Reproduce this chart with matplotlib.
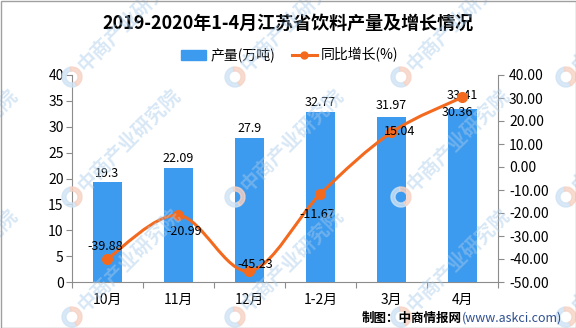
import matplotlib
matplotlib.use("Agg")
import matplotlib.pyplot as plt
import numpy as np
from matplotlib.path import Path
from matplotlib.patches import PathPatch, Wedge, Rectangle
from matplotlib.lines import Line2D
from matplotlib.ticker import FormatStrFormatter, FixedLocator

plt.rcParams['font.family'] = ['Noto Sans CJK SC', 'DejaVu Sans']

# data
months = ['10月', '11月', '12月', '1-2月', '3月', '4月']
output = [19.3, 22.09, 27.9, 32.77, 31.97, 33.41]        # 产量(万吨)
growth = [-39.88, -20.99, -45.23, -11.67, 15.04, 30.36]  # 同比增长(%)

bar_color = '#3D9BEF'
line_color = '#F36A1F'
spine_color = '#8C8C8C'

fig = plt.figure(figsize=(5.76, 3.28), dpi=100)
ax = fig.add_axes([72 / 576, 1 - 282 / 328, 426 / 576, 207 / 328])
ax2 = ax.twinx()

x = np.arange(len(months))

# bars
ax.bar(x, output, width=0.41, color=bar_color, zorder=2)
bar_offsets = [9, 9, 9, 10, 11, 14]  # px above the bar top
for xi, v, dy in zip(x, output, bar_offsets):
    ax.annotate(f'{v:g}', xy=(xi, v), xytext=(0, dy * 0.72), textcoords='offset points',
                ha='center', va='center', fontsize=9)

# smoothed line (bezier through the points, excel style)
verts = [(x[0], growth[0])]
codes = [Path.MOVETO]
n = len(x)
for i in range(n - 1):
    p0 = np.array([x[max(i - 1, 0)], growth[max(i - 1, 0)]])
    p1 = np.array([x[i], growth[i]])
    p2 = np.array([x[i + 1], growth[i + 1]])
    p3 = np.array([x[min(i + 2, n - 1)], growth[min(i + 2, n - 1)]])
    c1 = p1 + (p2 - p0) / 6
    c2 = p2 - (p3 - p1) / 6
    verts += [tuple(c1), tuple(c2), tuple(p2)]
    codes += [Path.CURVE4] * 3
ax2.add_patch(PathPatch(Path(verts, codes), fill=False, edgecolor=line_color,
                        linewidth=2.2, zorder=3, capstyle='round'))
ax2.plot(x, growth, 'o', color=line_color, markersize=7, zorder=4)

# growth labels, offsets in px
offsets = [(-2, 12), (6, -16), (6, 7), (-3, -21), (8, 1), (-5, -15)]
for xi, v, (dx, dy) in zip(x, growth, offsets):
    ax2.annotate(f'{v:.2f}', xy=(xi, v), xytext=(dx * 0.72, dy * 0.72),
                 textcoords='offset points', ha='center', va='center',
                 fontsize=9, zorder=5)

# axes styling
ax.set_xlim(-0.5, n - 0.5)
ax.set_ylim(0, 40)
ax.set_yticks(np.arange(0, 41, 5))
ax2.set_ylim(-50, 40)
ax2.set_yticks(np.arange(-50, 41, 10))
ax2.yaxis.set_major_formatter(FormatStrFormatter('%.2f'))

ax.xaxis.set_major_locator(FixedLocator(np.arange(-0.5, n, 1)))
ax.xaxis.set_minor_locator(FixedLocator(x))
ax.set_xticklabels([])
ax.set_xticklabels(months, minor=True)
ax.tick_params(axis='x', which='major', length=4, color=spine_color)
ax.tick_params(axis='x', which='minor', length=0, pad=8, labelsize=10)
ax.tick_params(axis='y', length=4, color=spine_color, labelsize=10, pad=2)
ax2.tick_params(axis='y', length=4, color=spine_color, labelsize=10, pad=4)

for a in (ax, ax2):
    for s in a.spines.values():
        s.set_color(spine_color)
    a.spines['top'].set_visible(False)
ax.spines['right'].set_visible(False)
ax2.spines['left'].set_visible(False)
ax2.spines['bottom'].set_visible(False)
ax.set_zorder(1)
ax2.set_zorder(2)
ax.patch.set_visible(False)

# title and legend
fig.text(0.5, 1 - 23 / 328, '2019-2020年1-4月江苏省饮料产量及增长情况',
         ha='center', va='center', fontsize=13, fontweight='bold')
handles = [Rectangle((0, 0), 1, 1, color=bar_color),
           Line2D([], [], color=line_color, lw=2.2, marker='o', markersize=5)]
fig.legend(handles, ['产量(万吨)', '同比增长(%)'], loc='center',
           bbox_to_anchor=(290 / 576, 1 - 55 / 328), ncol=2, frameon=False,
           fontsize=10, handlelength=1.8, handletextpad=0.3, columnspacing=1.2)

# watermark
for lx in [-91, 72, 235, 401, 566]:
    for ly in [77, 197, 317]:
        cx, cy = lx, 328 - ly
        fig.patches.append(Wedge((cx, cy), 10, 100, 300, width=4,
                                 color='#cfe3f4', alpha=0.8, transform=None, zorder=10))
        fig.patches.append(Wedge((cx, cy), 10, 300, 360 + 100, width=4,
                                 color='#f7d2c4', alpha=0.8, transform=None, zorder=10))
        fig.text((cx + 9) / 576, (cy + 9) / 328, '中商产业研究院', rotation=45,
                 rotation_mode='anchor', ha='left', va='center', fontsize=14,
                 fontweight='bold', color='#a9cbea', alpha=0.45, zorder=10)

# footer, drawn over the watermark
t1 = fig.text(362 / 576, 1 - 318 / 328, '制图：中商情报网', ha='left', va='center',
              fontsize=9, fontweight='bold', zorder=12)
fig.canvas.draw()
bb = t1.get_window_extent()
fig.text(bb.x1 / 576, 1 - 318 / 328, '(www.askci.com)', ha='left', va='center',
         fontsize=9, color='#2E4F8F', zorder=12)

# frame
fig.patches.append(Rectangle((0.5, 0.5), 575, 327, fill=False, edgecolor='#a0a0a0',
                             linewidth=1, transform=None, zorder=13))

fig.savefig('out.png', dpi=100)
